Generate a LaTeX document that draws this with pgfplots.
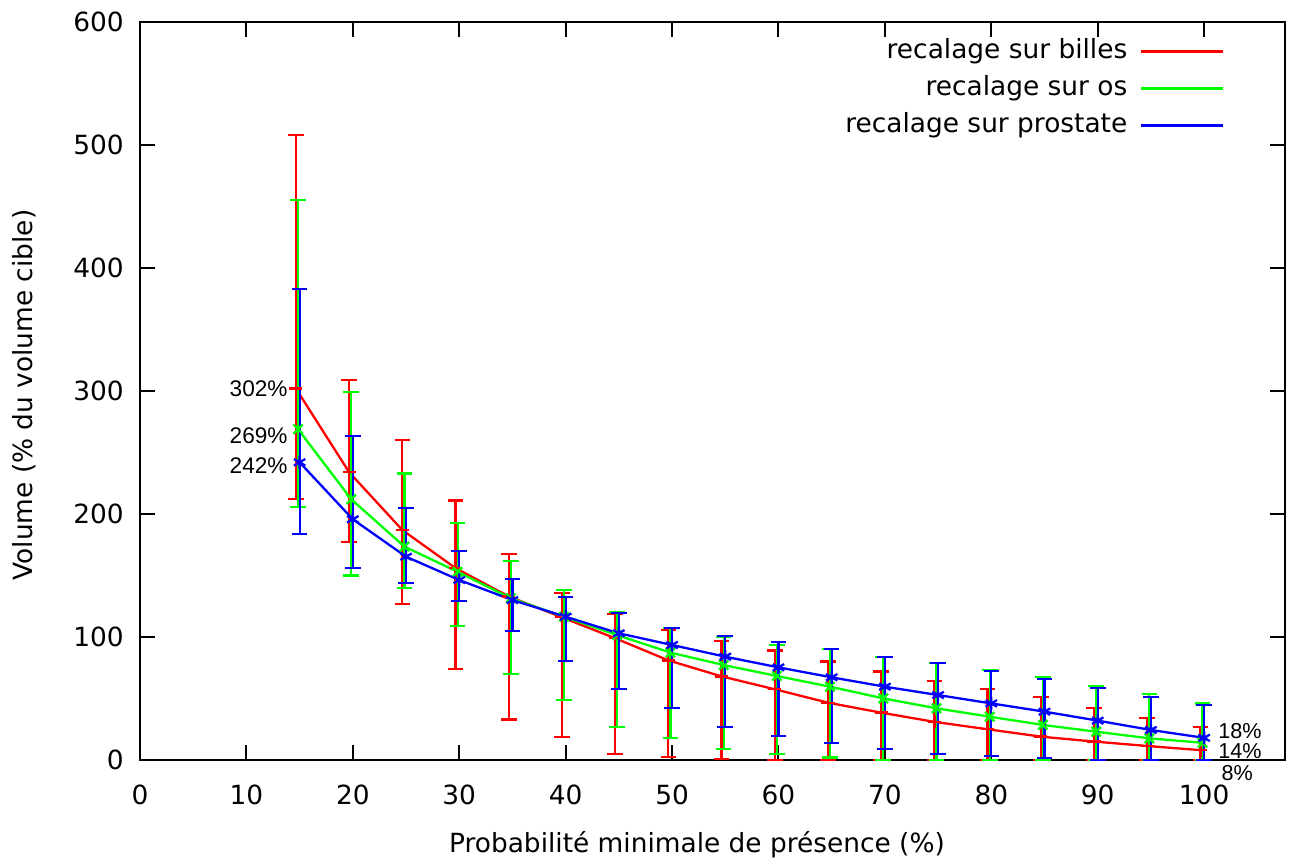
\documentclass[border=0pt]{standalone}
\usepackage{fontspec}
\setmainfont{DejaVu Sans}
\newfontfamily\arial{Liberation Sans}
\usepackage{pgfplots}
\usepackage{pgfplotstable}
\pgfplotsset{compat=1.18}
\definecolor{gred}{RGB}{255,0,0}
\definecolor{ggreen}{RGB}{0,255,0}
\definecolor{gblue}{RGB}{0,0,255}
\pgfplotstableread{
x y ep em
15 302 206 90
20 234 75 56.5
25 187 73 60
30 156 55 82
35 133 34.5 100
40 116 20 97
45 99 20 94
50 81 25 78.3
55 68 29 67
60 57.5 31.5 57.5
65 46.6 33.4 46.6
70 38.5 33.5 38.5
75 31 33 31
80 25 32.5 25
85 19 32 19
90 15 27 15
95 11.4 22.6 11.4
100 8 19 8
}\billes
\pgfplotstableread{
x y ep em
15 269 186 63
20 212 87.5 62
25 173.5 59.5 33.5
30 153 40 44
35 131.5 30.5 61.5
40 116.5 21.5 68
45 101.5 18.5 74.5
50 87.3 20.2 69.3
55 77.2 22.5 68.5
60 68.3 25.2 63.4
65 59.6 30.4 57.6
70 50.1 33.9 50.1
75 42 37 42
80 35.2 37.8 35.2
85 28.5 38.7 28.5
90 23 37.4 23
95 17.6 36.1 17.6
100 14 32 14
}\os
\pgfplotstableread{
x y ep em
15 242 141 58.5
20 195.7 67.7 39.7
25 165.3 39.3 21.7
30 146.3 23.7 16.8
35 130 17 25
40 116.5 16.3 35.8
45 103 16.8 45.3
50 93.5 13.5 51.5
55 84 17 57.4
60 75.3 20.4 55.8
65 67.2 22.8 53.7
70 59.6 24.4 50.9
75 52.8 26.2 47.9
80 46 26.6 42.7
85 39.3 26.3 37.7
90 32 26.8 32
95 24.4 27.1 24.4
100 18 27 18
}\prostate
\pgfplotsset{myerr/.style={error bars/.cd, y dir=both, y explicit,
    error mark options={rotate=90, mark size=3.9pt, line width=1.1pt},
    error bar style={line width=1.1pt}}}
\begin{document}
\begin{tikzpicture}
\begin{axis}[
  at={(0,0)}, anchor=south west,
  scale only axis, width=572.5pt, height=369pt,
  xmin=0, xmax=107.6, ymin=0, ymax=600,
  xtick={0,10,...,100}, ytick={0,100,...,600},
  tick align=inside, major tick length=7.5pt,
  axis line style={line width=1pt},
  every tick/.style={black, line width=1pt},
  /pgf/number format/assume math mode=true,
  tick label style={font=\fontsize{13.2}{15}\selectfont},
  xticklabel style={yshift=-9pt},
  yticklabel style={xshift=-4.6pt},
  label style={font=\fontsize{13.2}{15}\selectfont},
  xlabel={Probabilité minimale de présence (\%)},
  ylabel={Volume (\% du volume cible)},
  xlabel style={at={(axis description cs:0.4865,-0.115)}, anchor=center},
  ylabel style={at={(axis description cs:-0.1013,0.4946)}, anchor=center},
  clip=false,
  legend plot pos=right,
  legend cell align=right,
  legend style={at={(axis description cs:0.9476,1)}, anchor=north east, yshift=-5.5pt,
    draw=none, fill=none, inner sep=0pt, row sep=0.5pt,
    /tikz/every odd column/.append style={column sep=4pt},
    font=\fontsize{13.2}{15}\selectfont,
    nodes={text height=10pt, text depth=3pt, inner sep=2.5pt}},
  legend image code/.code={\draw[#1,mark=none] (0pt,0pt) -- (41pt,0pt);},
  every axis plot/.append style={line width=1.15pt, mark size=3.3pt},
]
\addplot[gred, mark=+, myerr]
  table[x expr=\thisrow{x}-0.35, y=y, y error plus=ep, y error minus=em]{\billes};
\addlegendentry{recalage sur billes}
\addplot[ggreen, mark=x, myerr]
  table[x expr=\thisrow{x}-0.15, y=y, y error plus=ep, y error minus=em]{\os};
\addlegendentry{recalage sur os}
\addplot[gblue, mark=asterisk, myerr]
  table[x=x, y=y, y error plus=ep, y error minus=em]{\prostate};
\addlegendentry{recalage sur prostate}
\node[anchor=east, inner sep=0pt, font=\arial\fontsize{11.3}{13}\selectfont] at (axis cs:13.9,301.6) {302\%};
\node[anchor=east, inner sep=0pt, font=\arial\fontsize{11.3}{13}\selectfont] at (axis cs:13.9,263.4) {269\%};
\node[anchor=east, inner sep=0pt, font=\arial\fontsize{11.3}{13}\selectfont] at (axis cs:13.9,239) {242\%};
\node[anchor=west, inner sep=0pt, font=\arial\fontsize{10.8}{12}\selectfont] at (axis cs:101.3,23.5) {18\%};
\node[anchor=west, inner sep=0pt, font=\arial\fontsize{10.8}{12}\selectfont] at (axis cs:101.3,7.2) {14\%};
\node[anchor=west, inner sep=0pt, font=\arial\fontsize{10.8}{12}\selectfont] at (axis cs:101.6,-10.8) {8\%};
\end{axis}
\pgfresetboundingbox
\path (-70pt,-50.5pt) rectangle (575.5pt,380pt);
\end{tikzpicture}
\end{document}
